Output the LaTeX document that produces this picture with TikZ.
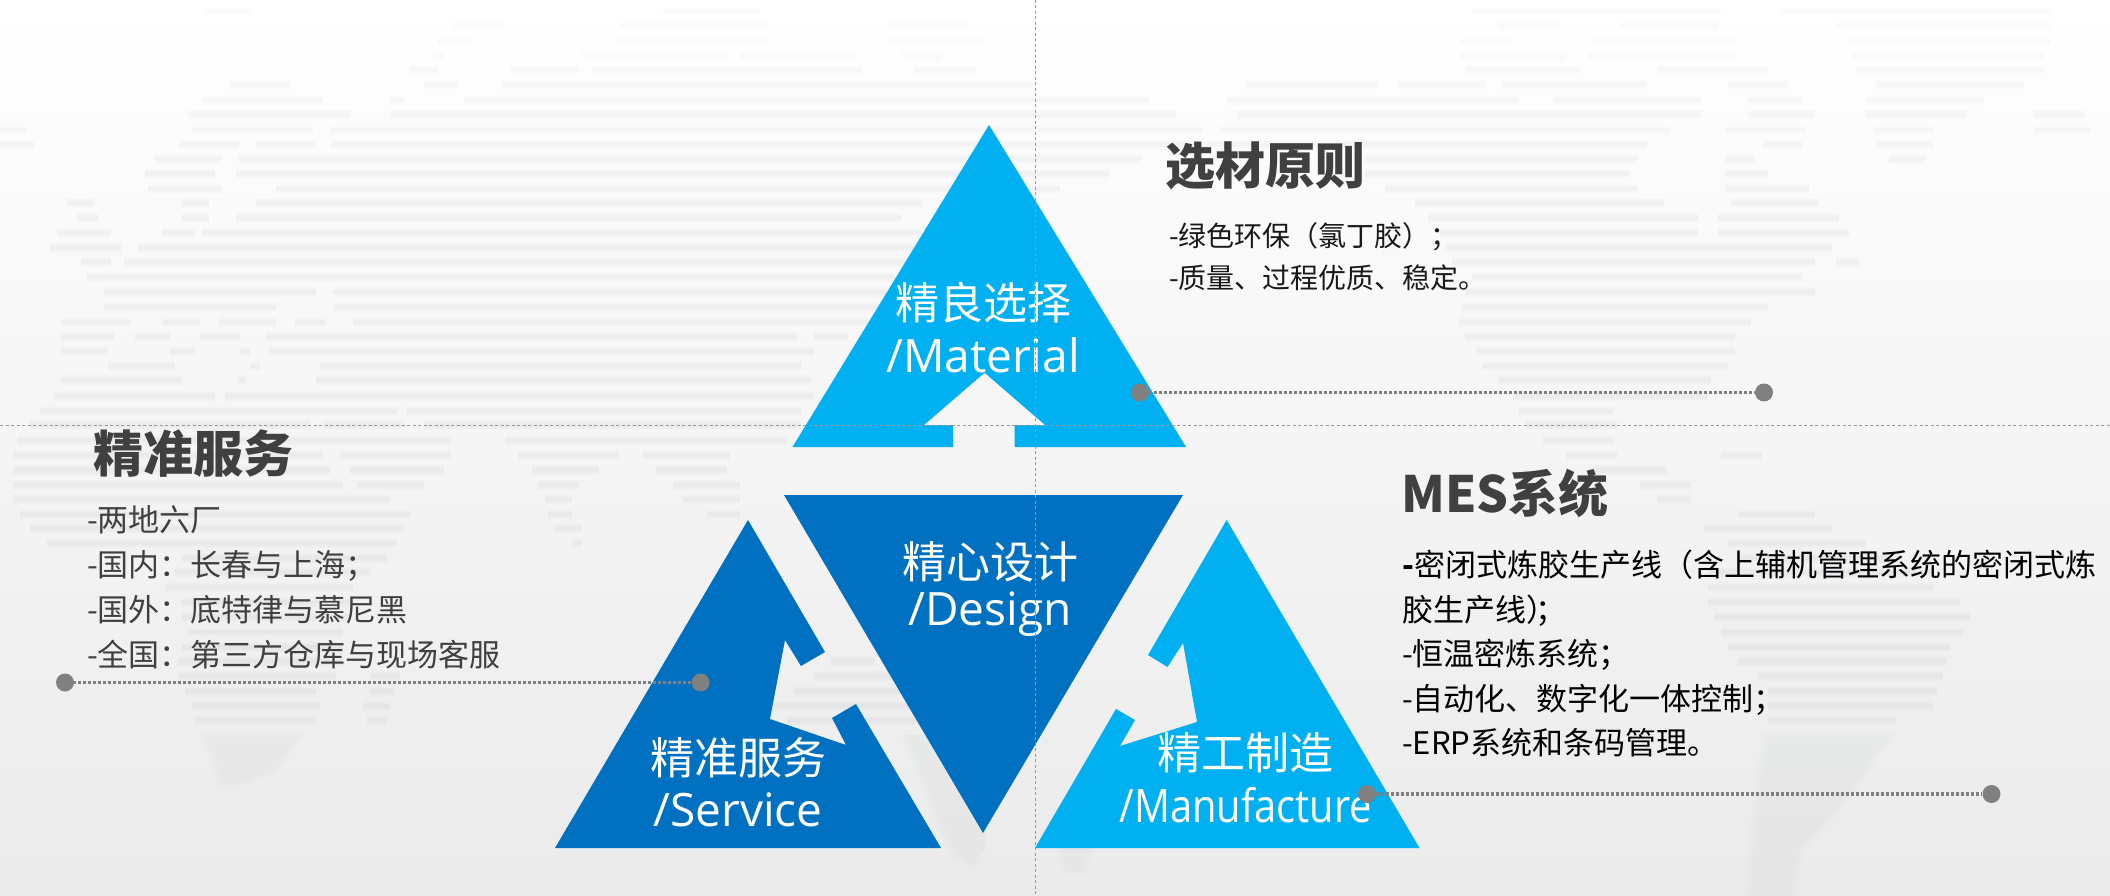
\documentclass[tikz,border=0pt]{standalone}
\usepackage{fontspec}
\setmainfont{Noto Sans CJK SC}
\newfontfamily\latfont{Open Sans}
\definecolor{deepblue}{HTML}{0070C0}
\definecolor{skyblue}{HTML}{00B0F0}
\definecolor{inkgrey}{HTML}{404040}
\definecolor{dotgrey}{HTML}{808080}
\definecolor{mapgrey}{HTML}{AEB1BE}
\tikzset{
  triword/.style={text=white, inner sep=0pt, font=\fontsize{44}{50}\selectfont},
  trilat/.style={text=white, inner sep=0pt, font=\latfont\fontsize{46}{50}\selectfont},
  headword/.style={text=inkgrey, inner sep=0pt, anchor=west, font=\bfseries\fontsize{50}{56}\selectfont},
  bodytext/.style={inner sep=0pt, anchor=north west, align=left},
  leaddot/.style={circle, fill=dotgrey, minimum size=18pt, inner sep=0pt},
  leader/.style={dotgrey, line width=3.5pt, dash pattern=on 3pt off 2pt},
  guide/.style={black!40, line width=1pt, dash pattern=on 3pt off 2.5pt},
}
\begin{document}
\begin{tikzpicture}[x=1pt, y=-1pt]
    \useasboundingbox (0,0) rectangle (2110,896);
    \shade[top color=white, middle color=white!94!mapgrey, bottom color=black!8] (0,0) rectangle (2110,896);
    % world map
    \foreach \y/\segs in {
      11/{202/252,663/760,1472/1721,1778/2051},
      26/{454/505,620/767,888/969,1499/1560,1620/1718,1836/2051},
      41/{437/471,616/767,888/982,1459/1513,1593/1735,1846/2051},
      56/{431/444,582/730,740/855,902/942,1459/1566,1587/1738,1852/2044},
      70/{410/437,511/579,592/861,915/976,1465/1580,1657/1768,1856/2044},
      85/{229/289,424/458,501/1036,1247/1378,1398/1486,1503/1647,1728/1788,1876/2024},
      100/{202/323,390/404,464/1149,1227/1519,1553/1701,1748/1802,1866/1984},
      115/{188/350,390/1176,1237/1701,1748/1815,1866/1967,2034/2085},
      130/{0/27,192/313,330/1203,1220/1671,1725/1805,1873/1933,2034/2091},
      145/{0/34,178/239,256/316,330/1647,1762/1802,1876/1933},
      159/{155/222,239/1142,1365/1637,1725/1755,1889/1926},
      174/{145/215,236/1109,1365/1630,1725/1768},
      189/{148/222,276/1060,1385/1637,1725/1809},
      203/{67/94,182/209,256/922,1415/1664,1731/1819},
      218/{77/98,182/209,236/902,1428/1698,1718/1839},
      233/{57/111,162/195,202/922,1439/1698,1718/1849},
      248/{50/121,138/942,1445/1832},
      262/{81/111,124/908,1452/1815,1836/1859},
      277/{87/895,1472/1802},
      292/{104/316,333/888,1465/1815},
      307/{104/276,333/888,1462/1768},
      322/{61/131,162/200,219/276,295/326,353/868,1459/1751},
      337/{61/114,135/170,200/240,266/797,814/848,1465/1735},
      351/{61/108,170/195,240/250,269/814,1476/1735},
      366/{108/175,250/260,320/801,1482/1728},
      380/{61/182,238/245,316/811,1499/1711},
      396/{54/215,225/814,1513/1708},
      411/{40/397,407/801,1519/1613},
      425/{30/310,323/404,424/801,1526/1617},
      440/{17/451,505/787,1543/1613},
      455/{13/323,340/451,518/619,643/730,1566/1617,1721/1762},
      470/{13/330,350/444,532/599,656/727,1593/1667},
      485/{13/343,357/424,538/579,673/740,1640/1691},
      499/{13/390,545/572,683/740,1657/1691},
      514/{20/410,548/572,707/740,1738/1815},
      528/{30/404,555/582,1704/1832},
      543/{47/397,572/582,1728/1866},
      558/{182/387,1740/1900},
      572/{175/370,1708/1933},
      587/{165/353,1708/1933},
      602/{182/350,1708/1960},
      617/{182/350,1714/1970},
      632/{188/343,1721/1963},
      647/{182/343,1728/1950},
      661/{178/343,831/875,1738/1947},
      676/{178/336,370/400,814/902,1758/1943},
      691/{185/316,370/394,794/908,1768/1937},
      706/{192/320,363/390,770/922,1768/1933},
      720/{195/316,367/387,787/935,1768/1896}}{
      \pgfmathsetmacro{\op}{min(.1,.02+\y/3000)}
      \foreach \a/\b in \segs {
        \draw[mapgrey, line width=10pt, opacity=\op*.35] (\a,\y) -- (\b,\y);
        \draw[mapgrey, line width=7pt, opacity=\op*.4] (\a,\y) -- (\b,\y);
        \draw[mapgrey, line width=4pt, opacity=\op*.6] (\a,\y) -- (\b,\y);
      }
    }
    \foreach \s in {0,3,6}{
      \fill[mapgrey, opacity=.025] (200+\s,731+\s) -- (305-\s,731+\s) -- (280-\s,770) -- (235,790-\s) -- (218+\s,790-\s) -- cycle;
      \fill[mapgrey, opacity=.03] (1762+\s,731+\s) -- (1895-\s,731+\s) -- (1850-\s,800) -- (1805-\s,850) -- (1795-\s,896) -- (1745+\s,896) -- (1752+\s,800) -- cycle;
      \fill[mapgrey, opacity=.03] (900+\s,735) -- (985,735) -- (985,850) -- (975-\s,870-\s) -- (950+\s,860-\s) -- cycle;
      \fill[mapgrey, opacity=.025] (1056+\s,848) -- (1097-\s,848) -- (1085-\s,875-\s) -- (1062+\s,875-\s) -- cycle;
    }

    \fill[skyblue] (989,125) -- (1186,447) -- (1014.5,447) -- (1014.5,425) -- (1045,425) -- (984.6,372.7)
      -- (924,425) -- (953,425) -- (953,447) -- (792.5,447) -- cycle;
    \fill[deepblue] (784,495) -- (1183,495) -- (983,833) -- cycle;
    \fill[deepblue] (748,520) -- (825,652) -- (801,666) -- (785,640) -- (770,719) -- (846,745) -- (832,718)
      -- (856,704) -- (941,848) -- (555,848) -- cycle;
    \fill[skyblue] (1226.6,520) -- (1419.5,848) -- (1035,848) -- (1116,709) -- (1135,720) -- (1120,746)
      -- (1197,722) -- (1183,643) -- (1167.5,667) -- (1148,655) -- cycle;

    \node[triword] (materialcn) at (983,303) {精良选择};
    \node[trilat] (materialen) at (983,355) {/Material};
    \node[triword] (designcn) at (990.5,562) {精心设计};
    \node[trilat] (designen) at (990,614) {/Design};
    \node[triword] (servicecn) at (738,758) {精准服务};
    \node[trilat] (serviceen) at (738,810) {/Service};
    \node[triword] (makecn) at (1245,753) {精工制造};
    \node[trilat] (makeen) at (1246,805) {\scalebox{.865}[1]{/Manufacture}};

    \node[headword] (materialhead) at (1165,166) {选材原则};
    \node[headword] (servicehead) at (93,454) {精准服务};
    \node[headword] (makehead) at (1401,493) {MES系统};

    \node[bodytext, text=black!90, font=\fontsize{28}{42}\selectfont] (materialtext) at (1169,222)
      {-绿色环保（氯丁胶）；\\-质量、过程优质、稳定。};
    \node[bodytext, text=inkgrey, font=\fontsize{31}{45}\selectfont] (servicetext) at (87,505)
      {-两地六厂\\-国内：长春与上海；\\-国外：底特律与慕尼黑\\-全国：第三方仓库与现场客服};
    \node[bodytext, text=black, font=\fontsize{31}{44.5}\selectfont] (maketext) at (1402,550)
      {{\bfseries -}密闭式炼胶生产线（含上辅机管理系统的密闭式炼\\胶生产线）\kern-.7em；\\-恒温密炼系统；\\-自动化、数字化一体控制；\\-ERP系统和条码管理。};

    \foreach \n/\p/\q/\r in {mat/1140/1764/392.5,ser/700.6/65/682.5,man/1367/1991.5/794}{
      \node[leaddot] (\n a) at (\p,\r) {};
      \node[leaddot] (\n b) at (\q,\r) {};
      \draw[leader] (\n a) -- (\n b);
    }

    \coordinate (guideleft) at (0,425.3);
    \coordinate (guideright) at (2110,425.3);
    \coordinate (guidetop) at (1035.5,0);
    \coordinate (guidebottom) at (1035.5,896);
    \draw[guide] (guideleft) -- (guideright);
    \draw[guide] (guidetop) -- (guidebottom);
\end{tikzpicture}
\end{document}
